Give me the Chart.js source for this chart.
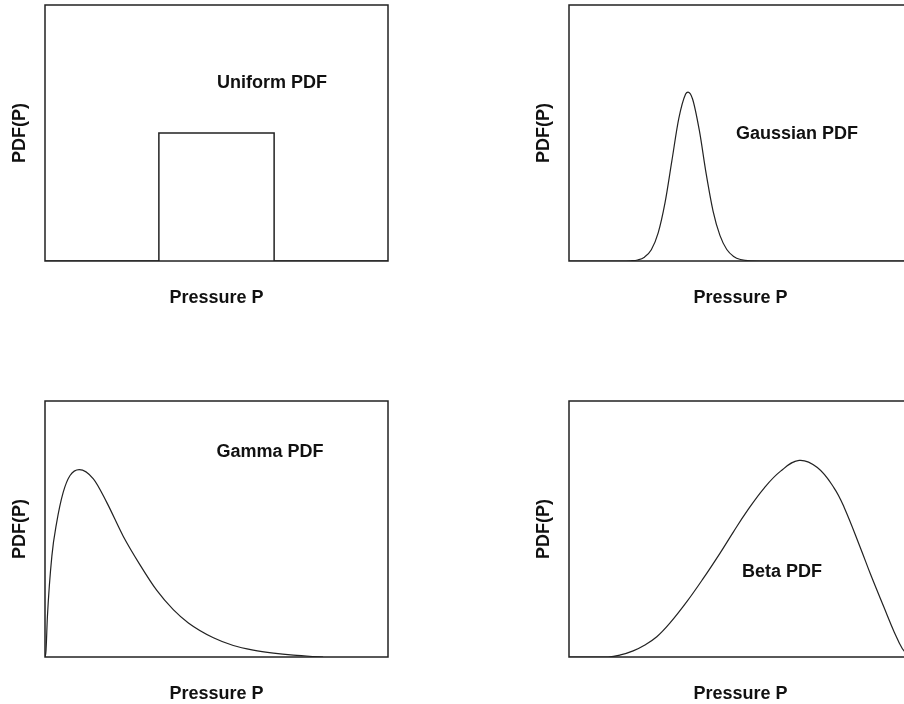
<!DOCTYPE html>
<html>
<head>
<meta charset="utf-8">
<title>PDF shapes</title>
<script src="https://cdn.jsdelivr.net/npm/chart.js@4.4.1/dist/chart.umd.min.js"></script>
<style>
  html, body { margin: 0; padding: 0; background: #fff; overflow: hidden; }
  #wrap { position: relative; width: 904px; height: 704px; overflow: hidden; }
  #wrap canvas { position: absolute; }
</style>
</head>
<body>
<div id="wrap">
  <canvas id="uniformChart" width="460" height="352" style="left:0px;top:0px"></canvas>
  <canvas id="gaussChart" width="460" height="352" style="left:524px;top:0px"></canvas>
  <canvas id="gammaChart" width="460" height="352" style="left:0px;top:396px"></canvas>
  <canvas id="betaChart" width="460" height="352" style="left:524px;top:396px"></canvas>
</div>
<script>
// axis texts
const xTitle = 'Pressure P';
const yTitle = 'PDF(P)';

// values, in % of the plot width / height
const uniformP = [0, 33.2, 33.2, 66.8, 66.8, 100];
const uniformPdf = [0, 0, 50, 50, 0, 0];

const gaussP = [0, 15, 18, 20, 22, 24, 26, 28, 30, 32, 34, 34.7, 36, 38, 40, 42, 44, 46, 48, 50, 53, 60, 100];
const gaussPdf = [0, 0, 0.1, 0.4, 1.5, 4.4, 11, 22.8, 39.2, 55.6, 65.2, 66, 63.4, 51, 34, 19.5, 10, 4.5, 1.8, 0.6, 0.1, 0, 0];

const gammaP = [0, 0.3, 0.7, 2, 3.4, 5.3, 7.3, 10, 14.1, 18, 22.8, 27.7, 32.6, 37.4, 41.8, 49.1, 54.9, 60.7, 66.6, 72.4, 78, 81.1];
const gammaPdf = [0, 2.6, 15.7, 39.4, 52.5, 64.3, 70.9, 73.2, 69.6, 60.4, 47.2, 36, 26, 18.5, 13.3, 7.5, 4.5, 2.7, 1.5, 0.7, 0.2, 0];

const betaP = [0, 11.4, 15, 18.7, 22, 25.6, 29.4, 34.3, 39.2, 44, 47.9, 51.8, 56.9, 61.7, 67.1, 72.4, 77.3, 80.2, 85, 88, 91.8, 94.8, 97.2, 99, 100];
const betaPdf = [0, 0, 0.8, 2.4, 4.6, 7.9, 13.2, 21.5, 30.8, 40.5, 48.8, 56.8, 66, 72.6, 76.8, 74, 66, 58.5, 42.5, 32, 19.5, 9.8, 3.2, 0.5, 0];

// in-plot labels and where they sit (same % units)
const panelLabels = ['Uniform PDF', 'Gaussian PDF', 'Gamma PDF', 'Beta PDF'];
const labelP = [66.2, 66.5, 65.6, 62.1];
const labelPdf = [69.5, 49.6, 79.9, 33.1];

// how each line is drawn: 'straight', 'monotone' or 'smooth'
const lineModes = ['straight', 'monotone', 'monotone', 'smooth'];

Chart.defaults.font.family = '"Liberation Sans", Arial, Helvetica, sans-serif';
Chart.defaults.font.size = 18;
Chart.defaults.font.weight = 'bold';
Chart.defaults.color = '#111';

// box round the plot area + the label inside it
const framePlugin = {
  id: 'frame',
  afterDatasetsDraw(chart, args, opts) {
    const { ctx, chartArea: a, scales } = chart;
    ctx.save();
    ctx.strokeStyle = '#222';
    ctx.lineWidth = 1.5;
    ctx.strokeRect(a.left, a.top, a.right - a.left, a.bottom - a.top);
    ctx.fillStyle = '#111';
    ctx.font = 'bold 18px "Liberation Sans", Arial, sans-serif';
    ctx.textAlign = 'center';
    ctx.textBaseline = 'middle';
    ctx.fillText(opts.text, scales.x.getPixelForValue(opts.x), scales.y.getPixelForValue(opts.y));
    ctx.restore();
  }
};

function makePanel(id, xs, ys, idx) {
  const canvas = document.getElementById(id);
  const points = xs.map((x, i) => ({ x: x, y: ys[i] }));
  const mode = lineModes[idx];
  return new Chart(canvas.getContext('2d'), {
    type: 'scatter',
    data: {
      datasets: [{
        data: points,
        showLine: true,
        borderColor: '#222',
        borderWidth: mode === 'straight' ? 1.5 : 1.2,
        pointRadius: 0,
        tension: mode === 'straight' ? 0 : 0.4,
        cubicInterpolationMode: mode === 'monotone' ? 'monotone' : 'default'
      }]
    },
    options: {
      responsive: false,
      animation: false,
      devicePixelRatio: 1,
      layout: { padding: { top: 5, right: 72, bottom: 45, left: 11 } },
      plugins: {
        legend: { display: false },
        tooltip: { enabled: false },
        frame: { text: panelLabels[idx], x: labelP[idx], y: labelPdf[idx] }
      },
      scales: {
        x: {
          type: 'linear',
          min: 0,
          max: 100,
          grid: { display: false, drawTicks: false },
          border: { display: false },
          ticks: { display: false },
          title: { display: true, text: xTitle, font: { size: 18, weight: 'bold', lineHeight: 1 }, padding: { top: 28, bottom: 0 } }
        },
        y: {
          type: 'linear',
          min: 0,
          max: 100,
          grid: { display: false, drawTicks: false },
          border: { display: false },
          ticks: { display: false },
          title: { display: true, text: yTitle, font: { size: 18, weight: 'bold', lineHeight: 1 }, padding: { top: 0, bottom: 16 } }
        }
      }
    },
    plugins: [framePlugin]
  });
}

makePanel('uniformChart', uniformP, uniformPdf, 0);
makePanel('gaussChart', gaussP, gaussPdf, 1);
makePanel('gammaChart', gammaP, gammaPdf, 2);
makePanel('betaChart', betaP, betaPdf, 3);
</script>
</body>
</html>
